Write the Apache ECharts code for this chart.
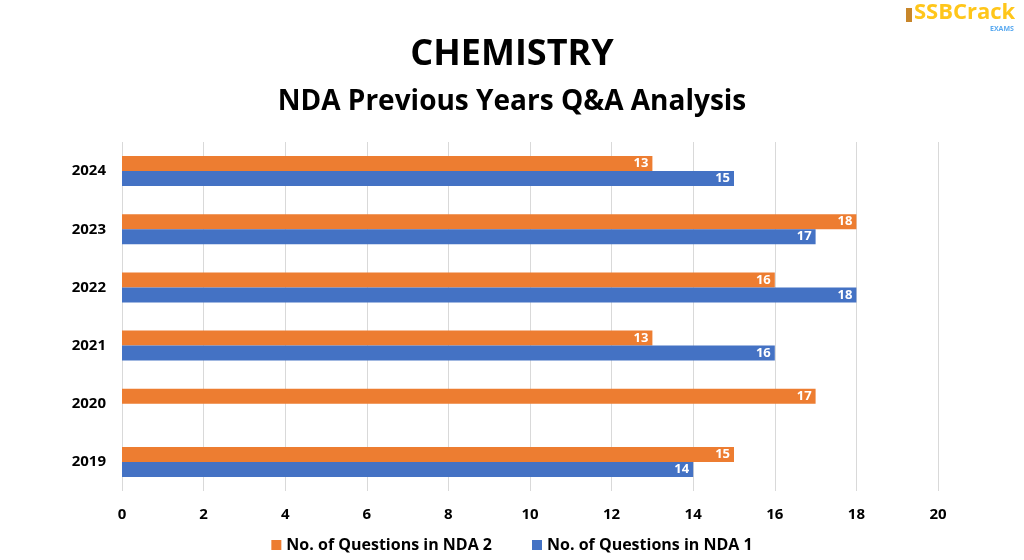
<!DOCTYPE html>
<html><head><meta charset="utf-8">
<script src="https://cdn.jsdelivr.net/npm/echarts@6/dist/echarts.min.js"></script>
<style>html,body{margin:0;padding:0;background:#fff}#c{width:1024px;height:560px}</style>
</head><body><div id="c"></div>
<script>
const years = ['2019','2020','2021','2022','2023','2024'];
const nda2 = [15, 17, 13, 16, 18, 13];
const nda1 = [14, null, 16, 18, 17, 15];
const xTicks = [0,2,4,6,8,10,12,14,16,18,20];
const titleText = 'CHEMISTRY';
const subtitleText = 'NDA Previous Years Q&A Analysis';

const FONT = '"Open Sans", "Noto Sans", sans-serif';
const chart = echarts.init(document.getElementById('c'));
const lbl = {show:true, position:'insideRight', distance:4, color:'#fff', fontWeight:'bold', fontSize:13, fontFamily:FONT};
chart.setOption({
  animation:false,
  title:[
    {text:titleText, left:'center', top:32, textStyle:{fontFamily:FONT, fontWeight:'bold', fontSize:36, color:'#000'}},
    {text:subtitleText, left:'center', top:83, textStyle:{fontFamily:FONT, fontWeight:'bold', fontSize:28, color:'#000'}}
  ],
  legend:{bottom:2, left:'center', itemWidth:10, itemHeight:10, itemGap:40, icon:'rect',
    textStyle:{fontFamily:FONT, fontWeight:'bold', fontSize:16, color:'#000'},
    data:['No. of Questions in NDA 2','No. of Questions in NDA 1']},
  grid:{left:122, right:86, top:142, bottom:69, containLabel:false},
  xAxis:{type:'value', min:0, max:20, interval:2,
    axisLine:{show:false}, axisTick:{show:false},
    splitLine:{show:true, lineStyle:{color:'#d9d9d9', width:1}},
    axisLabel:{margin:16, fontFamily:FONT, fontWeight:'bold', fontSize:15, color:'#000',
      formatter:v=> xTicks.includes(v) ? String(v) : ''}},
  yAxis:{type:'category', data:years,
    axisLine:{show:false}, axisTick:{show:false},
    axisLabel:{margin:16, fontFamily:FONT, fontWeight:'bold', fontSize:15, color:'#000'}},
  series:[
    {name:'No. of Questions in NDA 2', type:'bar', data:nda2, barWidth:15, barGap:'0%', z:2,
      itemStyle:{color:'#ED7D31'}, label:lbl},
    {name:'No. of Questions in NDA 1', type:'bar', data:nda1, barWidth:15, barGap:'0%', z:2,
      itemStyle:{color:'#4472C4'}, label:lbl}
  ],
  graphic:[
    {type:'rect', left:906, top:8, shape:{width:6, height:14}, style:{fill:'#c8862a'}},
    {type:'text', left:914, top:2, style:{text:'SSBCrack', fontFamily:FONT, fontWeight:'bold', fontSize:22, fill:'#FFC61A'}},
    {type:'text', left:990, top:25, style:{text:'EXAMS', fontFamily:FONT, fontWeight:'bold', fontSize:7, fill:'#5aaaf0'}}
  ]
});
</script></body></html>
